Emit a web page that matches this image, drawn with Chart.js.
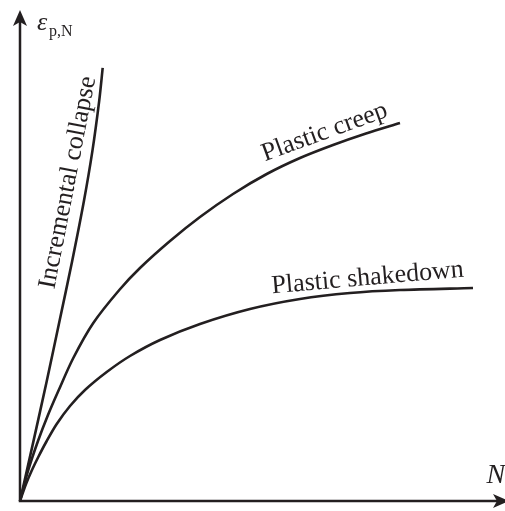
<!DOCTYPE html>
<html>
<head>
<meta charset="utf-8">
<script src="https://cdn.jsdelivr.net/npm/chart.js@4"></script>
<style>
  html, body { margin: 0; padding: 0; background: #fff; }
  #wrap { width: 505px; height: 511px; position: relative; }
</style>
</head>
<body>
<div id="wrap"><canvas id="curves"></canvas></div>
<script>
// series (arbitrary units, N 0..100, strain 0..100)
const seriesNames = ['Incremental collapse', 'Plastic creep', 'Plastic shakedown'];

const collapseN = [0, 2.78, 5.51, 8.16, 10.76, 13.18, 14.93, 16.33, 17.05];
const collapseStrain = [0, 12.2, 24.4, 36.7, 48.9, 61.1, 71.3, 81.5, 88.2];

const creepN = [0, 1.65, 3.71, 5.77, 7.9, 10.99, 15.11, 20.47, 24.74, 30.93, 37.11, 43.92, 50.87, 57.73, 64.54, 71.34, 78.35];
const creepStrain = [0, 6.11, 12.22, 17.52, 22.4, 29.12, 36.25, 42.97, 47.45, 52.95, 57.84, 62.53, 66.6, 69.86, 72.51, 74.85, 76.99];

const shakedownN = [0, 1.24, 2.47, 3.77, 5.51, 7.57, 10.31, 13.4, 17.88, 22.68, 28.87, 37.11, 47.42, 57.73, 68.04, 78.35, 93.4];
const shakedownStrain = [0, 3.46, 6.31, 8.96, 12.22, 15.68, 19.35, 22.61, 26.27, 29.53, 32.79, 36.05, 39.1, 41.14, 42.36, 42.97, 43.38];

const axisTitleX = 'N';
const axisTitleY = 'ε';
const axisTitleYSub = 'p,N';

const ink = '#231f20';
const serif = '"Liberation Serif", "Times New Roman", serif';

function toPoints(xs, ys) {
    return xs.map((x, i) => ({ x: x, y: ys[i] }));
}

// where the curve names sit (data units) and how they are turned
const curveLabels = [
    { text: seriesNames[0], x: 11.3, y: 64.6, angle: -79 },
    { text: seriesNames[1], x: 63.3, y: 73.8, angle: -20 },
    { text: seriesNames[2], x: 71.8, y: 44.0, angle: -5 }
];

const axesPlugin = {
    id: 'arrowAxes',
    beforeDatasetsDraw(chart) {
        const ctx = chart.ctx;
        const xs = chart.scales.x, ys = chart.scales.y;
        const ox = xs.getPixelForValue(0), oy = ys.getPixelForValue(0);
        const top = ys.getPixelForValue(100);
        const right = xs.getPixelForValue(100) + 4;
        ctx.save();
        ctx.strokeStyle = ink;
        ctx.fillStyle = ink;
        ctx.lineWidth = 2.5;
        ctx.beginPath();
        ctx.moveTo(ox, oy + 1.2);
        ctx.lineTo(ox, top + 10);
        ctx.moveTo(ox - 1.2, oy);
        ctx.lineTo(right - 10, oy);
        ctx.stroke();
        // y arrow
        ctx.beginPath();
        ctx.moveTo(ox, top);
        ctx.lineTo(ox - 7, top + 16);
        ctx.lineTo(ox, top + 12);
        ctx.lineTo(ox + 7, top + 16);
        ctx.closePath();
        ctx.fill();
        // x arrow
        ctx.beginPath();
        ctx.moveTo(right, oy);
        ctx.lineTo(right - 16, oy - 7);
        ctx.lineTo(right - 12, oy);
        ctx.lineTo(right - 16, oy + 7);
        ctx.closePath();
        ctx.fill();
        ctx.restore();
    },
    afterDatasetsDraw(chart) {
        const ctx = chart.ctx;
        const xs = chart.scales.x, ys = chart.scales.y;
        ctx.save();
        ctx.fillStyle = ink;
        ctx.textBaseline = 'alphabetic';

        curveLabels.forEach(l => {
            ctx.save();
            ctx.translate(xs.getPixelForValue(l.x), ys.getPixelForValue(l.y));
            ctx.rotate(l.angle * Math.PI / 180);
            ctx.font = '26px ' + serif;
            ctx.textAlign = 'center';
            ctx.fillText(l.text, 0, 0);
            ctx.restore();
        });

        // axis titles
        ctx.textAlign = 'left';
        ctx.font = 'italic 26px ' + serif;
        ctx.fillText(axisTitleY, xs.getPixelForValue(3.5), ys.getPixelForValue(95.9));
        ctx.font = '16px ' + serif;
        ctx.fillText(axisTitleYSub, xs.getPixelForValue(6.0), ys.getPixelForValue(94.7));
        ctx.font = 'italic 28px ' + serif;
        ctx.fillText(axisTitleX, xs.getPixelForValue(96.2), ys.getPixelForValue(3.7));
        ctx.restore();
    }
};

const lineStyle = {
    showLine: true,
    borderColor: ink,
    borderWidth: 2.6,
    pointRadius: 0,
    tension: 0.3,
    clip: false
};

new Chart(document.getElementById('curves').getContext('2d'), {
    type: 'scatter',
    data: {
        datasets: [
            Object.assign({ label: seriesNames[0], data: toPoints(collapseN, collapseStrain) }, lineStyle),
            Object.assign({ label: seriesNames[1], data: toPoints(creepN, creepStrain) }, lineStyle),
            Object.assign({ label: seriesNames[2], data: toPoints(shakedownN, shakedownStrain) }, lineStyle)
        ]
    },
    options: {
        responsive: true,
        maintainAspectRatio: false,
        animation: false,
        layout: { padding: { left: 20, top: 10, right: 0, bottom: 10 } },
        plugins: { legend: { display: false }, tooltip: { enabled: false } },
        scales: {
            x: { type: 'linear', min: 0, max: 100, display: false },
            y: { type: 'linear', min: 0, max: 100, display: false }
        }
    },
    plugins: [axesPlugin]
});
</script>
</body>
</html>
